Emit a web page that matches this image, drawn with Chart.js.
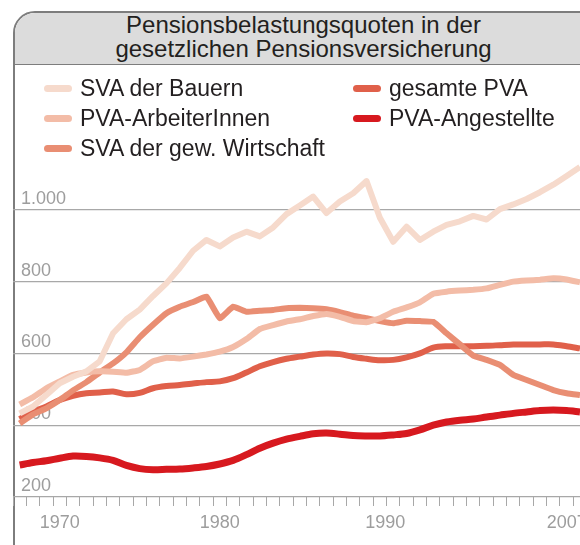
<!DOCTYPE html>
<html>
<head>
<meta charset="utf-8">
<script src="https://cdn.jsdelivr.net/npm/chart.js@4.4.1/dist/chart.umd.min.js"></script>
<style>
  html, body { margin: 0; padding: 0; background: #fff; overflow: hidden; width: 580px; height: 545px; }
  body { position: relative; font-family: 'Liberation Sans', Arial, sans-serif; }
  #frame { position: absolute; left: 13px; top: 11px; width: 581px; height: 600px; border: 2px solid #7d7d7d; border-top-left-radius: 22px; box-sizing: border-box; }
  #title { background: #dcdcdc; border-bottom: 1.5px solid #7d7d7d; border-top-left-radius: 20px; height: 52px; box-sizing: border-box; padding-top: 0; text-align: center; font-size: 24px; line-height: 24px; color: #231f20; }
  #chart { position: absolute; left: 0; top: 0; }
  #legend { position: absolute; left: 0; top: 0; width: 580px; height: 180px; }
  .item { position: absolute; height: 30px; line-height: 30px; font-size: 23px; color: #231f20; white-space: nowrap; }
  .sw { position: absolute; left: 0; top: 11.5px; width: 28px; height: 7px; border-radius: 3.5px; }
  .lbl { position: absolute; left: 36px; top: 0; }
</style>
</head>
<body>
<div id="frame"><div id="title">Pensionsbelastungsquoten in der<br>gesetzlichen Pensionsversicherung</div></div>
<canvas id="chart" width="600" height="545"></canvas>
<div id="legend"></div>
<script>
// Pensionsbelastungsquoten, one value per year slot
const seriesNames = ['SVA der Bauern', 'PVA-ArbeiterInnen', 'SVA der gew. Wirtschaft', 'gesamte PVA', 'PVA-Angestellte'];
const seriesColors = ['#f6dacc', '#f3bca7', '#e98e73', '#e0604a', '#d7191f'];

const bauern = [433, 452, 484, 517, 535, 550, 578, 656, 695, 722, 760, 795, 838, 886, 916, 898, 923, 939, 926, 951, 988, 1012, 1037, 991, 1023, 1046, 1080, 978, 911, 953, 916, 939, 958, 968, 983, 973, 1002, 1015, 1030, 1049, 1070, 1094, 1119];
const arbeiter = [458, 478, 503, 522, 540, 547, 550, 549, 546, 554, 578, 588, 586, 591, 597, 605, 618, 640, 668, 679, 689, 695, 704, 710, 702, 690, 687, 698, 716, 728, 742, 766, 772, 775, 777, 781, 791, 800, 803, 805, 809, 806, 798];
const wirtschaft = [405, 430, 447, 470, 497, 520, 547, 572, 603, 645, 680, 712, 730, 743, 758, 698, 730, 716, 719, 721, 726, 727, 726, 723, 715, 705, 698, 690, 684, 691, 690, 688, 656, 625, 594, 582, 568, 540, 526, 512, 498, 489, 484];
const pvaGesamt = [417, 438, 452, 470, 482, 489, 491, 494, 486, 490, 503, 509, 512, 516, 520, 522, 531, 547, 564, 576, 585, 591, 597, 600, 598, 590, 585, 581, 582, 589, 600, 616, 620, 620, 620, 621, 623, 625, 625, 625, 625, 620, 614];
const angestellte = [289, 296, 301, 308, 314, 313, 309, 302, 288, 279, 276, 277, 278, 281, 285, 292, 302, 318, 336, 350, 361, 369, 376, 378, 375, 371, 370, 370, 373, 377, 387, 400, 409, 414, 417, 423, 428, 433, 437, 441, 442, 441, 437];

const yTickValues = [200, 400, 600, 800, 1000];
const xTickLabels = ['1970', '1980', '1990', '2007'];
const xTickSlots = [3, 15, 27.4, 41];

const slots = bauern.map((_, i) => i);
const seriesData = [bauern, arbeiter, wirtschaft, pvaGesamt, angestellte];
const fontFamily = "'Liberation Sans', Arial, sans-serif";

// legend as html, two columns
const legendEl = document.getElementById('legend');
seriesNames.forEach((name, i) => {
  const col = Math.floor(i / 3), row = i % 3;
  const item = document.createElement('div');
  item.className = 'item';
  item.style.left = (44 + col * 309) + 'px';
  item.style.top = (73 + row * 30) + 'px';
  item.innerHTML = '<span class="sw" style="background:' + seriesColors[i] + '"></span><span class="lbl">' + name + '</span>';
  legendEl.appendChild(item);
});

function fmt(v) {
  return String(v).replace(/\B(?=(\d{3})+(?!\d))/g, '.');
}

new Chart(document.getElementById('chart'), {
  type: 'line',
  data: {
    labels: slots,
    datasets: seriesData.map((d, i) => ({
      label: seriesNames[i],
      data: d,
      borderColor: seriesColors[i],
      borderWidth: i === 4 ? 7 : 6,
      tension: i === 0 ? 0 : (i >= 3 ? 0.3 : 0.1),
      borderJoinStyle: 'round',
      borderCapStyle: 'butt',
      pointRadius: 0,
      fill: false
    }))
  },
  options: {
    responsive: false,
    animation: false,
    layout: { padding: { left: 13, top: 138, right: 0, bottom: 0 } },
    plugins: { legend: { display: false }, tooltip: { enabled: false } },
    scales: {
      x: {
        type: 'linear', min: -0.5, max: 43.5, position: 'bottom', weight: 0,
        border: { display: false },
        grid: { drawOnChartArea: false, drawTicks: true, tickLength: 9, color: '#a8a8a8', lineWidth: 1 },
        ticks: { display: false },
        afterBuildTicks: s => { s.ticks = []; for (let v = s.min; v <= s.max; v++) s.ticks.push({ value: v }); },
        afterFit: s => { s.height = 9; }
      },
      x2: {
        type: 'linear', min: -0.5, max: 43.5, position: 'bottom', weight: 1,
        border: { display: false },
        grid: { display: false, drawTicks: false },
        ticks: {
          color: '#9d9d9d', font: { family: fontFamily, size: 18 }, padding: 6,
          maxRotation: 0, autoSkip: false,
          callback: (v, i) => xTickLabels[i]
        },
        afterBuildTicks: s => { s.ticks = xTickSlots.map(v => ({ value: v })); },
        afterFit: s => { s.height = 39; }
      },
      y: {
        min: 200, max: 1200,
        border: { display: false },
        grid: { color: '#a8a8a8', lineWidth: 1.3, drawTicks: false },
        ticks: {
          mirror: true, padding: 8, labelOffset: -11,
          color: '#9d9d9d', font: { family: fontFamily, size: 18 },
          callback: v => fmt(v)
        },
        afterBuildTicks: s => { s.ticks = yTickValues.map(v => ({ value: v })); },
        afterFit: s => { s.width = 0; }
      }
    }
  }
});
</script>
</body>
</html>
